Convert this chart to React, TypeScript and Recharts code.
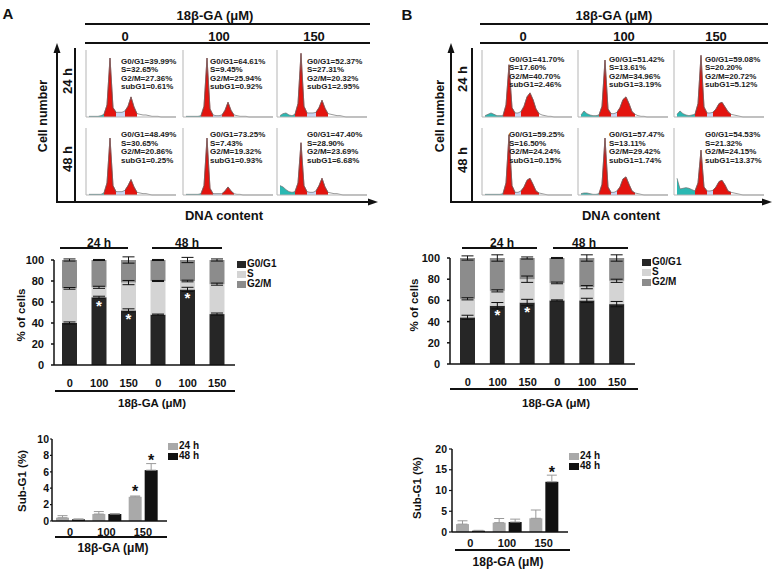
import React from "react";
import {
	AreaChart,
	Area,
	BarChart,
	Bar,
	XAxis,
	YAxis,
	ErrorBar,
	LabelList,
} from "recharts";

const FONT = '"Liberation Sans", Arial, sans-serif';

// order everywhere: 24 h (0, 100, 150) then 48 h (0, 100, 150)
const doseLabels = ["0", "100", "150"];
const stackDoseLabels = ["0", "100", "150", "0", "100", "150"];

// flow cytometry readouts, panel A
const pctG1A = [39.99, 64.61, 52.37, 48.49, 73.25, 47.4];
const pctSA = [32.65, 9.45, 27.31, 30.65, 7.43, 28.9];
const pctG2A = [27.36, 25.94, 20.32, 20.86, 19.32, 23.69];
const pctSubA = [0.61, 0.92, 2.95, 0.25, 0.93, 6.68];

// flow cytometry readouts, panel B
const pctG1B = [41.7, 51.42, 59.08, 59.25, 57.47, 54.53];
const pctSB = [17.6, 13.61, 20.2, 16.5, 13.11, 21.32];
const pctG2B = [40.7, 34.96, 20.72, 24.24, 29.42, 24.15];
const pctSubB = [2.46, 3.19, 5.12, 0.15, 1.74, 13.37];

// DNA histograms (relative counts per channel bin)
const histA = [
	[1, 1, 1, 1, 2, 4, 18, 88, 14, 7, 7, 7, 9, 16, 30, 15, 5, 4, 3, 3, 2, 1, 1, 1, 0, 0, 0, 0, 0, 0],
	[1, 1, 1, 1, 1, 2, 16, 88, 12, 3, 2, 2, 3, 10, 22, 10, 3, 2, 1, 1, 1, 0, 0, 0, 0, 0, 0, 0, 0, 0],
	[2, 5, 6, 3, 2, 4, 20, 95, 16, 6, 6, 6, 7, 14, 25, 13, 5, 4, 3, 2, 2, 1, 0, 0, 0, 0, 0, 0, 0, 0],
	[1, 1, 1, 1, 1, 3, 18, 85, 14, 5, 5, 5, 7, 14, 23, 12, 4, 3, 2, 2, 1, 0, 0, 0, 0, 0, 0, 0, 0, 0],
	[1, 1, 1, 1, 1, 2, 14, 85, 10, 2, 2, 2, 2, 6, 12, 6, 2, 1, 1, 0, 0, 0, 0, 0, 0, 0, 0, 0, 0, 0],
	[14, 12, 8, 5, 4, 5, 18, 78, 14, 5, 4, 4, 6, 14, 25, 12, 4, 3, 2, 2, 1, 0, 0, 0, 0, 0, 0, 0, 0, 0],
];
const histB = [
	[2, 4, 6, 4, 2, 2, 2, 18, 78, 14, 6, 6, 8, 16, 30, 36, 26, 12, 5, 3, 2, 1, 1, 0, 0, 0, 0, 0, 0, 0],
	[3, 9, 5, 3, 2, 2, 3, 16, 85, 12, 5, 5, 7, 14, 26, 30, 20, 8, 4, 2, 1, 1, 0, 0, 0, 0, 0, 0, 0, 0],
	[4, 9, 5, 3, 2, 3, 4, 20, 92, 15, 6, 6, 7, 12, 20, 22, 15, 8, 4, 3, 2, 1, 0, 0, 0, 0, 0, 0, 0, 0],
	[1, 1, 1, 1, 1, 1, 2, 18, 90, 14, 4, 4, 6, 12, 22, 25, 16, 6, 3, 2, 1, 0, 0, 0, 0, 0, 0, 0, 0, 0],
	[2, 3, 3, 2, 1, 1, 2, 16, 85, 12, 4, 4, 6, 12, 24, 27, 16, 6, 3, 2, 1, 0, 0, 0, 0, 0, 0, 0, 0, 0],
	[25, 9, 10, 11, 10, 8, 6, 18, 67, 12, 6, 6, 7, 12, 20, 22, 15, 6, 4, 3, 2, 1, 0, 0, 0, 0, 0, 0, 0, 0],
];
const zonesA = { debris: 5, g1: [5, 9], g2: [12, 16] };
const zonesB = { debris: 6, g1: [6, 10], g2: [12, 18] };

// stacked % of cells, panel A
const stackG1A = [40, 64.5, 52, 48, 72, 48.5];
const stackSA = [33, 9.5, 26.5, 32, 8, 28.5];
const stackG2A = [27, 26, 21.5, 20, 20, 23];
const errG1A = [1, 1, 1.5, 0.5, 2, 1];
const errSA = [0.8, 1, 2, 0.5, 0.8, 1];
const errG2A = [1, 0.5, 3, 0.5, 2.5, 1];
const starA = [false, true, true, false, true, false];

// stacked % of cells, panel B
const stackG1B = [44, 55, 58, 60, 60, 56.5];
const stackSB = [17.5, 14, 22, 16.5, 12.5, 22];
const stackG2B = [38.5, 31, 20, 23.5, 27.5, 21.5];
const errG1B = [2, 3, 3, 0.5, 2, 2.5];
const errSB = [1, 1, 3, 0.8, 1.5, 1.5];
const errG2B = [2, 3, 1, 0.5, 3, 3];
const starB = [false, true, true, false, false, false];

// sub-G1 %, panel A
const sub24A = [0.4, 0.85, 2.95];
const sub48A = [0.2, 0.85, 6.2];
const subErr24A = [0.25, 0.3, 0.1];
const subErr48A = [0.05, 0.05, 0.8];
const subStar24A = [false, false, true];
const subStar48A = [false, false, true];

// sub-G1 %, panel B
const sub24B = [1.9, 2.25, 3.3];
const sub48B = [0.3, 2.4, 12.1];
const subErr24B = [0.8, 1.0, 2.0];
const subErr48B = [0.1, 0.7, 1.6];
const subStar24B = [false, false, false];
const subStar48B = [false, false, true];

const C_G1 = "#262626";
const C_S = "#d4d4d4";
const C_G2 = "#8c8c8c";
const C_24 = "#a9a9a9";
const C_48 = "#111111";
const AXIS = "#111";

function Txt({ x, y, size = 12, rotate = 0, anchor = "middle", children }: any) {
	const tx = anchor === "middle" ? "-50%" : anchor === "end" ? "-100%" : "0";
	return (
		<div
			style={{
				position: "absolute",
				left: x,
				top: y,
				transform: `translate(${tx}, -50%) rotate(${rotate}deg)`,
				fontSize: size,
				fontWeight: 700,
				lineHeight: 1,
				whiteSpace: "nowrap",
				color: "#111",
			}}
		>
			{children}
		</div>
	);
}

function HLine({ x1, x2, y, w = 2 }: any) {
	return (
		<div
			style={{
				position: "absolute",
				left: x1,
				top: y - w / 2,
				width: x2 - x1,
				height: w,
				background: "#111",
			}}
		/>
	);
}

function Histogram({ counts, zones, left, top }: any) {
	const data = counts.map((v: number, i: number) => ({
		bin: i,
		total: v,
		debris: i <= zones.debris ? v : null,
		g1: i >= zones.g1[0] && i <= zones.g1[1] ? v : null,
		s: i >= zones.g1[1] && i <= zones.g2[0] ? v : null,
		g2: i >= zones.g2[0] && i <= zones.g2[1] ? v : null,
	}));
	return (
		<div style={{ position: "absolute", left, top }}>
			<AreaChart width={95} height={72} data={data} margin={{ top: 2, right: 2, bottom: 2, left: 2 }}>
				<XAxis dataKey="bin" type="number" domain={[-1, 29]} tick={false} height={1} stroke="#b5b5b5" />
				<YAxis domain={[0, () => 100]} tick={false} width={1} stroke="#b5b5b5" />
				<Area dataKey="debris" type="linear" stroke="none" fill="#2bb8b2" fillOpacity={1} isAnimationActive={false} dot={false} activeDot={false} />
				<Area dataKey="s" type="linear" stroke="none" fill="#c9d5f2" fillOpacity={1} isAnimationActive={false} dot={false} activeDot={false} />
				<Area dataKey="g1" type="linear" stroke="#8a0000" strokeWidth={0.6} fill="#e3140f" fillOpacity={1} isAnimationActive={false} dot={false} activeDot={false} />
				<Area dataKey="g2" type="linear" stroke="#8a0000" strokeWidth={0.6} fill="#e3140f" fillOpacity={1} isAnimationActive={false} dot={false} activeDot={false} />
				<Area dataKey="total" type="linear" stroke="#6f6f6f" strokeWidth={0.7} fill="none" isAnimationActive={false} dot={false} activeDot={false} />
			</AreaChart>
		</div>
	);
}

function PhaseText({ left, top, g1, s, g2, sub }: any) {
	return (
		<div
			style={{
				position: "absolute",
				left,
				top,
				fontSize: 8,
				lineHeight: "8.6px",
				fontWeight: 700,
				color: "#1a1a1a",
				whiteSpace: "nowrap",
			}}
		>
			<div>G0/G1={g1.toFixed(2)}%</div>
			<div>S={s.toFixed(2)}%</div>
			<div>G2/M={g2.toFixed(2)}%</div>
			<div>subG1={sub.toFixed(2)}%</div>
		</div>
	);
}

function FlowPanel({ hist, zones, cellX, textX, topTextY, g1, s, g2, sub }: any) {
	return (
		<>
			{hist.map((counts: number[], i: number) => (
				<Histogram key={"h" + i} counts={counts} zones={zones} left={cellX[i % 3]} top={i < 3 ? 48 : 126} />
			))}
			{hist.map((_: number[], i: number) => (
				<PhaseText
					key={"t" + i}
					left={textX[i % 3]}
					top={i < 3 ? topTextY : 131}
					g1={g1[i]}
					s={s[i]}
					g2={g2[i]}
					sub={sub[i]}
				/>
			))}
		</>
	);
}

const whiteStar = (props: any) => {
	const { x, y, width, value } = props;
	if (!value) return null;
	return (
		<text
			x={Number(x) + Number(width) / 2}
			y={Number(y) + 14}
			textAnchor="middle"
			fill="#fff"
			fontSize={15}
			fontWeight={700}
			fontFamily={FONT}
		>
			*
		</text>
	);
};

const blackStar = (lift: number) => (props: any) => {
	const { x, y, width, value } = props;
	if (!value) return null;
	return (
		<text
			x={Number(x) + Number(width) / 2}
			y={Number(y) - lift}
			textAnchor="middle"
			fill="#111"
			fontSize={16}
			fontWeight={700}
			fontFamily={FONT}
		>
			*
		</text>
	);
};

const tickStyle = (size: number) => ({ fill: "#111", fontSize: size, fontWeight: 700, fontFamily: FONT });

function StackedChart({ left, top, width, height, g1, s, g2, eG1, eS, eG2, stars, padLeft }: any) {
	const data = stackDoseLabels.map((dose, i) => ({
		key: (i < 3 ? "24h-" : "48h-") + dose,
		dose,
		g1: g1[i],
		s: s[i],
		g2: g2[i],
		g1Err: eG1[i],
		sErr: eS[i],
		g2Err: eG2[i],
		g1Star: stars[i] ? "*" : "",
	}));
	return (
		<div style={{ position: "absolute", left, top }}>
			<BarChart width={width} height={height} data={data} margin={{ top: 10, right: 5, left: 0, bottom: 0 }} barSize={15}>
				<XAxis
					dataKey="key"
					interval={0}
					tickFormatter={(k: string) => k.split("-")[1]}
					tickLine={false}
					tickSize={6}
					tickMargin={8}
					height={30}
					padding={{ left: padLeft, right: 3 }}
					axisLine={{ stroke: AXIS, strokeWidth: 1.5 }}
					tick={tickStyle(11)}
				/>
				<YAxis
					domain={[0, () => 100]}
					ticks={[0, 20, 40, 60, 80, 100]}
					interval={0}
					width={34}
					tickSize={3}
					tickMargin={7}
					axisLine={{ stroke: AXIS, strokeWidth: 1.5 }}
					tickLine={{ stroke: AXIS, strokeWidth: 1.5 }}
					tick={tickStyle(11)}
				/>
				<Bar dataKey="g1" stackId="a" fill={C_G1} isAnimationActive={false}>
					<ErrorBar dataKey="g1Err" width={6} stroke="#111" strokeWidth={1} />
					<LabelList dataKey="g1Star" content={whiteStar} />
				</Bar>
				<Bar dataKey="s" stackId="a" fill={C_S} isAnimationActive={false}>
					<ErrorBar dataKey="sErr" width={6} stroke="#111" strokeWidth={1} />
				</Bar>
				<Bar dataKey="g2" stackId="a" fill={C_G2} isAnimationActive={false}>
					<ErrorBar dataKey="g2Err" width={6} stroke="#111" strokeWidth={1} />
				</Bar>
			</BarChart>
		</div>
	);
}

function SubG1Chart({ left, top, width, height, h24, h48, e24, e48, s24, s48, yMax, yTicks, tickSize, tickMargin, xMargin }: any) {
	const data = doseLabels.map((dose, i) => ({
		dose,
		h24: h24[i],
		h48: h48[i],
		h24Err: [0, e24[i]],
		h48Err: [0, e48[i]],
		h24Star: s24[i] ? "*" : "",
		h48Star: s48[i] ? "*" : "",
	}));
	return (
		<div style={{ position: "absolute", left, top }}>
			<BarChart width={width} height={height} data={data} margin={{ top: 5, right: 3, left: 0, bottom: 0 }} barSize={13} barGap={3}>
				<XAxis
					dataKey="dose"
					interval={0}
					tickLine={false}
					tickSize={4}
					tickMargin={xMargin}
					height={20}
					padding={{ left: 0, right: 6 }}
					axisLine={{ stroke: AXIS, strokeWidth: 1.5 }}
					tick={tickStyle(11)}
				/>
				<YAxis
					domain={[0, () => yMax]}
					ticks={yTicks}
					interval={0}
					width={34}
					tickSize={tickSize}
					tickMargin={tickMargin}
					axisLine={{ stroke: AXIS, strokeWidth: 1.5 }}
					tickLine={{ stroke: AXIS, strokeWidth: 1.2 }}
					tick={tickStyle(10.5)}
				/>
				<Bar dataKey="h24" fill={C_24} isAnimationActive={false}>
					<ErrorBar dataKey="h24Err" width={5} stroke="#9a9a9a" strokeWidth={1} />
					<LabelList dataKey="h24Star" content={blackStar(0)} />
				</Bar>
				<Bar dataKey="h48" fill={C_48} isAnimationActive={false}>
					<ErrorBar dataKey="h48Err" width={5} stroke="#9a9a9a" strokeWidth={1} />
					<LabelList dataKey="h48Star" content={blackStar(4)} />
				</Bar>
			</BarChart>
		</div>
	);
}

function Swatch({ x, y, color, label, size = 10, w = 9 }: any) {
	return (
		<>
			<div style={{ position: "absolute", left: x, top: y - 3.5, width: w, height: 7, background: color }} />
			<Txt x={x + w + 1} y={y} size={size} anchor="start">
				{label}
			</Txt>
		</>
	);
}

function Arrows({ vx, sepX, hEnd }: any) {
	return (
		<>
			<line x1={vx} y1={203} x2={vx} y2={52} stroke="#111" strokeWidth={2} />
			<polygon points={`${vx},43 ${vx - 3.5},53 ${vx + 3.5},53`} fill="#111" />
			<line x1={vx - 1} y1={202} x2={hEnd - 8} y2={202} stroke="#111" strokeWidth={2} />
			<polygon points={`${hEnd},202 ${hEnd - 10},198.5 ${hEnd - 10},205.5`} fill="#111" />
			<line x1={sepX} y1={48} x2={sepX} y2={202} stroke="#111" strokeWidth={2} />
		</>
	);
}

export default function App() {
	return (
		<div
			style={{
				position: "absolute",
				left: 0,
				top: 0,
				width: 777,
				height: 570,
				background: "#fff",
				fontFamily: FONT,
				overflow: "hidden",
			}}
		>
			<svg width={777} height={570} style={{ position: "absolute", left: 0, top: 0 }}>
				<Arrows vx={57} sepX={75} hEnd={378} />
				<Arrows vx={451} sepX={472} hEnd={772} />
			</svg>

			{/* panel A */}
			<Txt x={8} y={13} size={15}>A</Txt>
			<Txt x={215} y={15} size={13}>18β-GA (μM)</Txt>
			<HLine x1={85} x2={370} y={24} />
			<Txt x={125} y={36} size={13}>0</Txt>
			<Txt x={219} y={36} size={13}>100</Txt>
			<Txt x={314} y={36} size={13}>150</Txt>
			<HLine x1={85} x2={370} y={43} />
			<Txt x={43} y={116} size={12.5} rotate={-90}>Cell number</Txt>
			<Txt x={67} y={81} size={13} rotate={-90}>24 h</Txt>
			<Txt x={67} y={159} size={13} rotate={-90}>48 h</Txt>
			<Txt x={224} y={215} size={13}>DNA content</Txt>
			<FlowPanel
				hist={histA}
				zones={zonesA}
				cellX={[83, 180, 274]}
				textX={[121, 210, 307]}
				topTextY={57.7}
				g1={pctG1A}
				s={pctSA}
				g2={pctG2A}
				sub={pctSubA}
			/>

			<Txt x={99} y={243} size={12}>24 h</Txt>
			<HLine x1={60} x2={128} y={248} w={1.6} />
			<Txt x={187} y={243} size={12}>48 h</Txt>
			<HLine x1={152} x2={222} y={248} w={1.6} />
			<StackedChart
				left={20}
				top={250}
				width={220}
				height={145}
				g1={stackG1A}
				s={stackSA}
				g2={stackG2A}
				eG1={errG1A}
				eS={errSA}
				eG2={errG2A}
				stars={starA}
				padLeft={1}
			/>
			<Txt x={22} y={315} size={11.5} rotate={-90}>% of cells</Txt>
			<Swatch x={237} y={264} color={C_G1} label="G0/G1" />
			<Swatch x={237} y={274} color={C_S} label="S" />
			<Swatch x={237} y={284} color={C_G2} label="G2/M" />
			<HLine x1={55} x2={235} y={391} w={1.6} />
			<Txt x={152} y={404} size={11.5}>18β-GA (μM)</Txt>

			<SubG1Chart
				left={18}
				top={434}
				width={152}
				height={107}
				h24={sub24A}
				h48={sub48A}
				e24={subErr24A}
				e48={subErr48A}
				s24={subStar24A}
				s48={subStar48A}
				yMax={10}
				yTicks={[0, 2, 4, 6, 8, 10]}
				tickSize={2}
				tickMargin={1}
				xMargin={3}
			/>
			<Txt x={23} y={481} size={11.5} rotate={-90}>Sub-G1 (%)</Txt>
			<Swatch x={168} y={446} color={C_24} label="24 h" w={10} />
			<Swatch x={168} y={456} color={C_48} label="48 h" w={10} />
			<HLine x1={55} x2={167} y={537} w={1.6} />
			<Txt x={113} y={548} size={12}>18β-GA (μM)</Txt>

			{/* panel B */}
			<Txt x={407} y={14} size={15}>B</Txt>
			<Txt x={614} y={15} size={13}>18β-GA (μM)</Txt>
			<HLine x1={480} x2={768} y={24} />
			<Txt x={523} y={36} size={13}>0</Txt>
			<Txt x={624} y={36} size={13}>100</Txt>
			<Txt x={716} y={36} size={13}>150</Txt>
			<HLine x1={480} x2={768} y={43} />
			<Txt x={440} y={116} size={12.5} rotate={-90}>Cell number</Txt>
			<Txt x={462} y={79} size={13} rotate={-90}>24 h</Txt>
			<Txt x={462} y={160} size={13} rotate={-90}>48 h</Txt>
			<Txt x={621} y={215} size={13}>DNA content</Txt>
			<FlowPanel
				hist={histB}
				zones={zonesB}
				cellX={[479, 575, 671]}
				textX={[509, 609, 705]}
				topTextY={55.7}
				g1={pctG1B}
				s={pctSB}
				g2={pctG2B}
				sub={pctSubB}
			/>

			<Txt x={502} y={243} size={12}>24 h</Txt>
			<HLine x1={462} x2={537} y={248} w={1.6} />
			<Txt x={584} y={243} size={12}>48 h</Txt>
			<HLine x1={553} x2={628} y={248} w={1.6} />
			<StackedChart
				left={416}
				top={248}
				width={224}
				height={146}
				g1={stackG1B}
				s={stackSB}
				g2={stackG2B}
				eG1={errG1B}
				eS={errSB}
				eG2={errG2B}
				stars={starB}
				padLeft={3}
			/>
			<Txt x={415} y={305} size={11.5} rotate={-90}>% of cells</Txt>
			<Swatch x={642} y={262} color={C_G1} label="G0/G1" />
			<Swatch x={642} y={272} color={C_S} label="S" />
			<Swatch x={642} y={282} color={C_G2} label="G2/M" />
			<HLine x1={450} x2={638} y={389} w={1.6} />
			<Txt x={556} y={404} size={11.5}>18β-GA (μM)</Txt>

			<SubG1Chart
				left={418}
				top={444}
				width={153}
				height={108}
				h24={sub24B}
				h48={sub48B}
				e24={subErr24B}
				e48={subErr48B}
				s24={subStar24B}
				s48={subStar48B}
				yMax={20}
				yTicks={[0, 5, 10, 15, 20]}
				tickSize={3}
				tickMargin={2}
				xMargin={3}
			/>
			<Txt x={418} y={488} size={11.5} rotate={-90}>Sub-G1 (%)</Txt>
			<Swatch x={569} y={456} color={C_24} label="24 h" w={10} />
			<Swatch x={569} y={466} color={C_48} label="48 h" w={10} />
			<HLine x1={455} x2={570} y={550} w={1.6} />
			<Txt x={508} y={562} size={12}>18β-GA (μM)</Txt>
		</div>
	);
}
